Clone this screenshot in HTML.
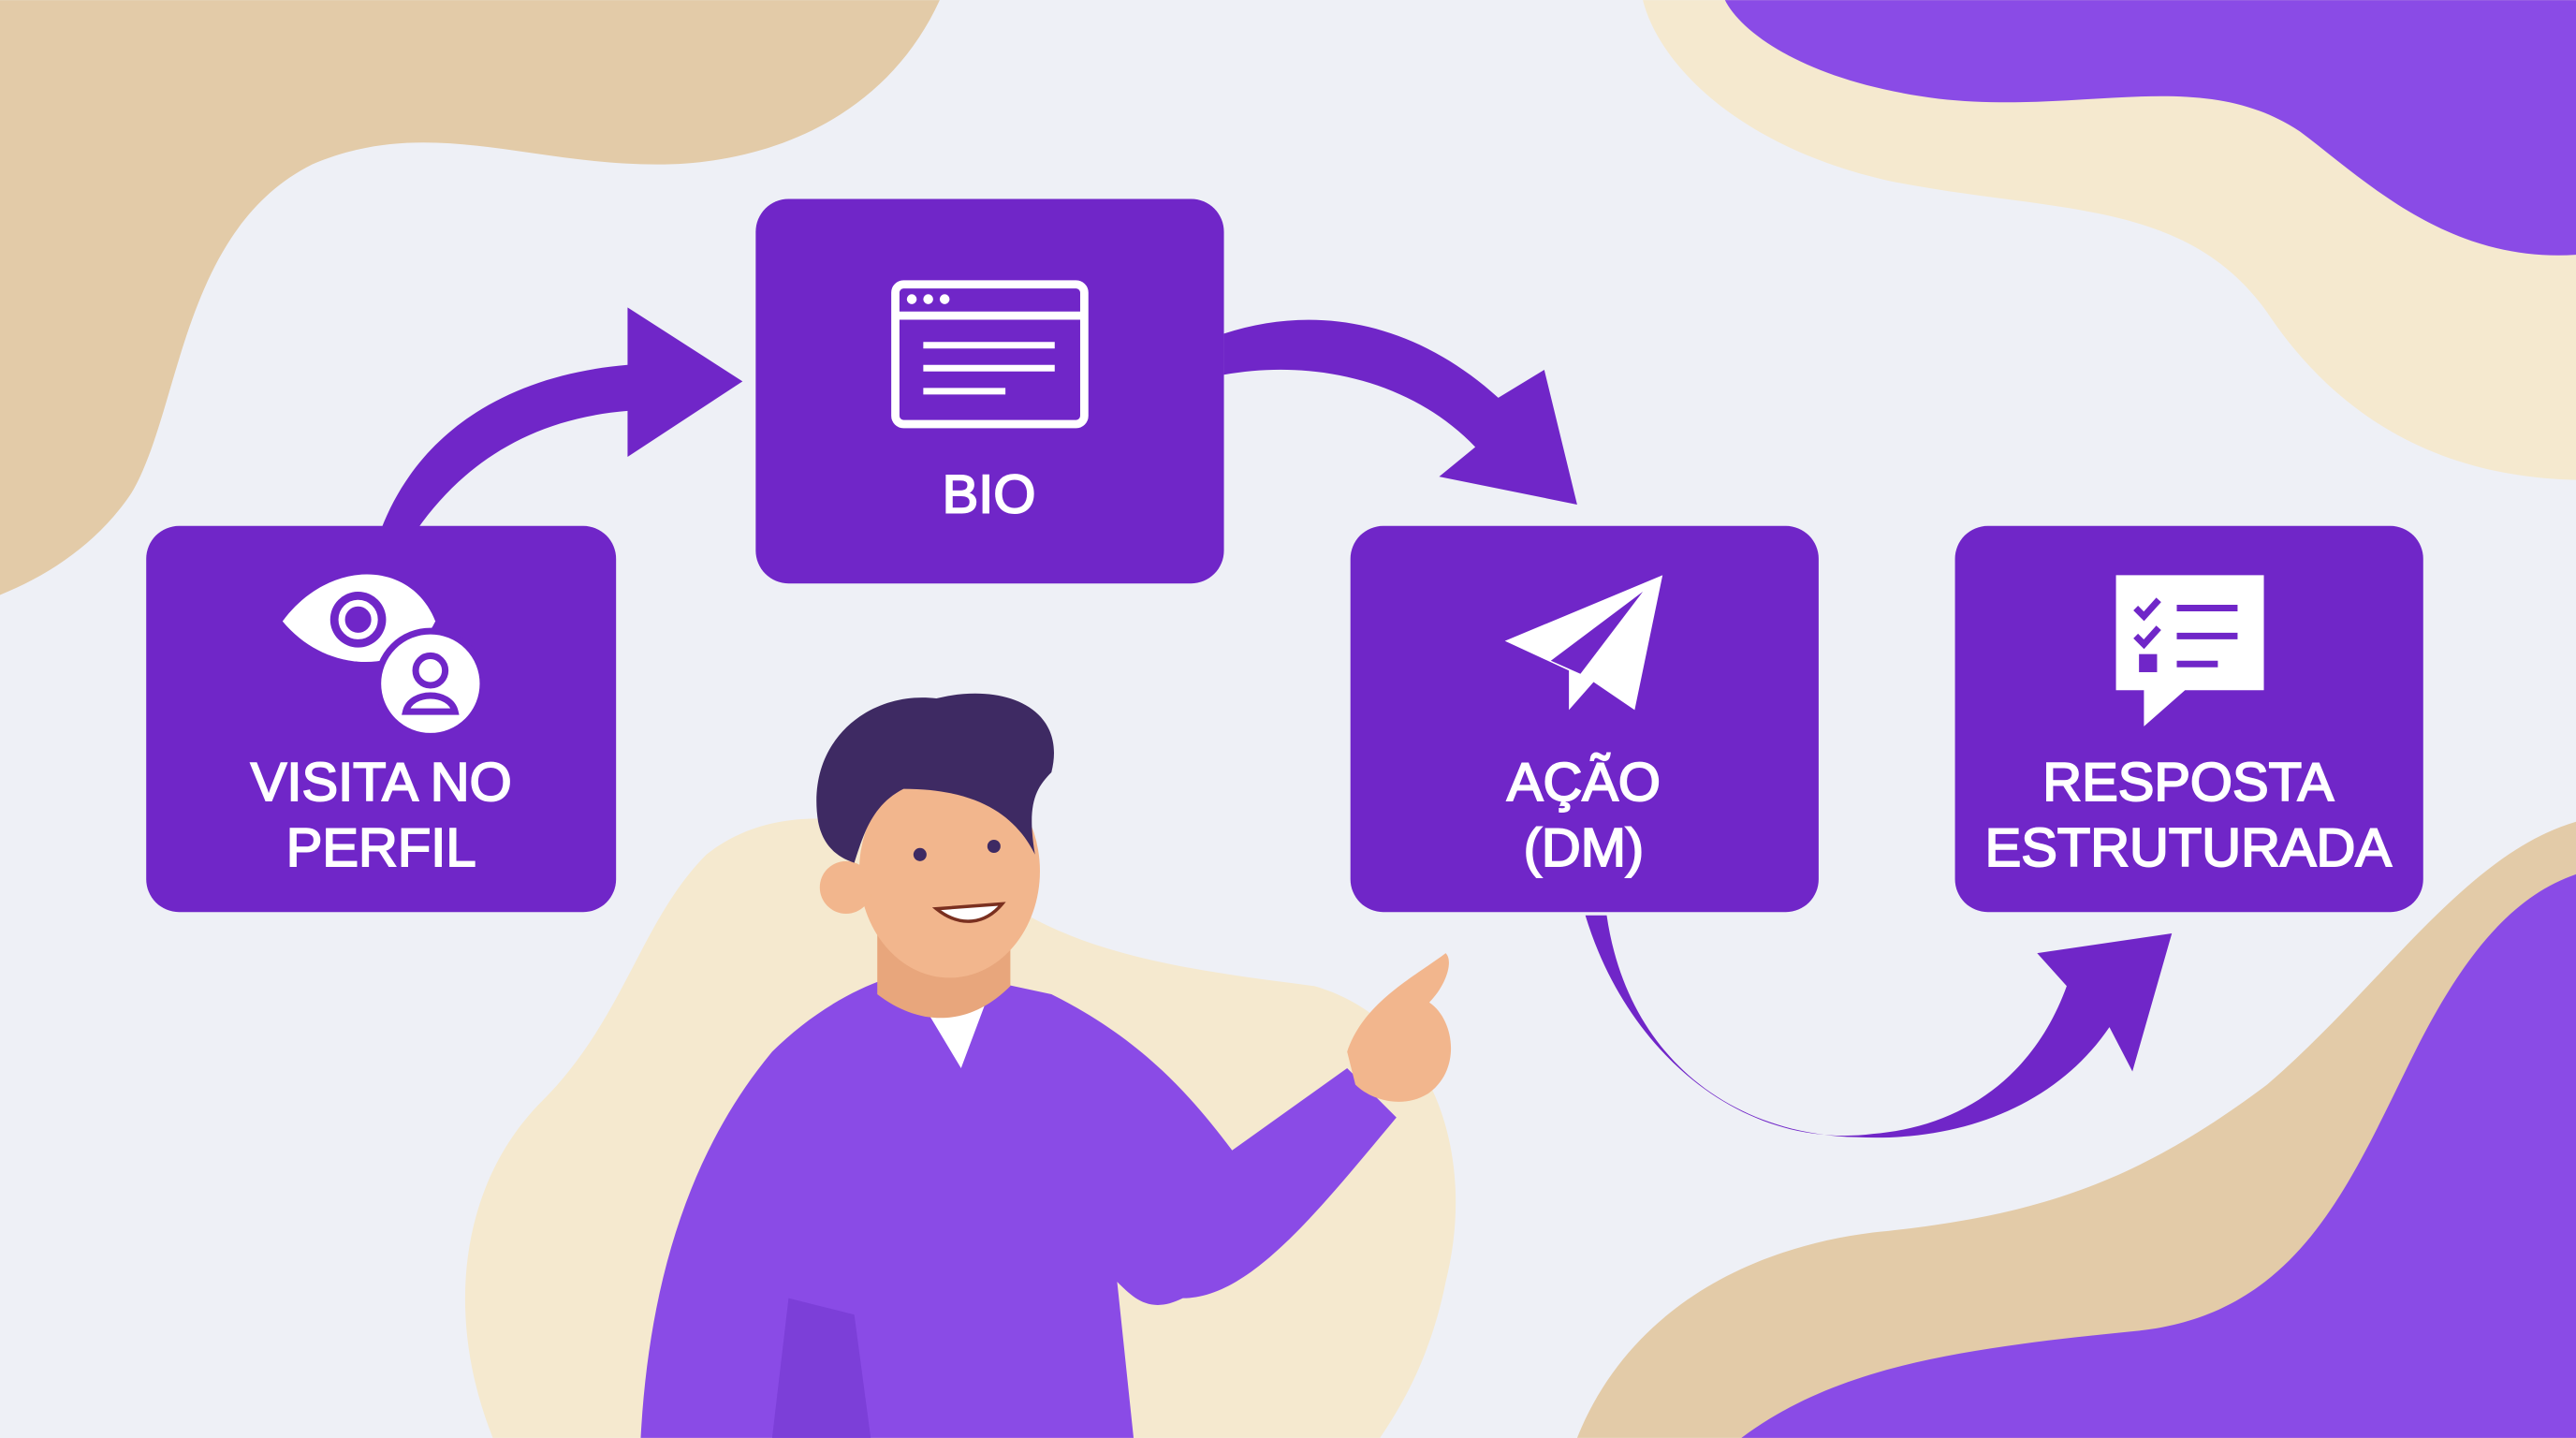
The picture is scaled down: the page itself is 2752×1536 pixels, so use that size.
<!DOCTYPE html>
<html><head><meta charset="utf-8"><style>
html,body{margin:0;padding:0;width:2752px;height:1536px;overflow:hidden;background:#eef0f6}
svg{display:block}
text{font-family:"Liberation Sans",sans-serif;fill:#fff;stroke:#fff;stroke-width:1.1px;font-size:33px;text-anchor:middle}
</style></head><body>
<svg width="2752" height="1536" viewBox="0 0 1568 875" xmlns="http://www.w3.org/2000/svg">
<rect width="1568" height="875" fill="#eef0f6"/>
<path d="M0 0 L572 0 C540 70 470 100 400 100 C320 100 260 70 190 100 C110 140 110 250 80 300 C60 330 30 350 0 362 Z" fill="#e3cba8"/>
<path d="M1000 0 L1568 0 L1568 292 C1480 290 1420 250 1380 190 C1330 120 1250 130 1150 110 C1060 90 1010 40 1000 0 Z" fill="#f5e9cf"/>
<path d="M1050 0 L1568 0 L1568 155 C1490 160 1440 110 1400 80 C1340 40 1270 70 1180 60 C1100 50 1060 20 1050 0 Z" fill="#8a4be6"/>
<path d="M960 875 C990 800 1060 760 1140 750 C1240 740 1300 720 1380 660 C1450 600 1500 520 1568 500 L1568 875 Z" fill="#e3cba8"/>
<path d="M1060 875 C1120 830 1200 820 1300 810 C1400 800 1430 720 1470 640 C1500 580 1530 545 1568 532 L1568 875 Z" fill="#8a4be6"/>
<path d="M300 875 C270 800 280 720 330 670 C380 620 390 560 430 520 C480 480 560 500 600 540 C650 580 720 590 800 600 C870 620 900 700 880 780 C870 830 850 860 840 875 Z" fill="#f5e9cf"/>

<g fill="#7026c8">
<path d="M232 322 C255 262 310 228 382 222 L382 187 L452 232 L382 278 L382 250 C320 255 280 285 254 322 Z"/>
<path d="M745 203 C800 185 860 195 912 242 L940 225 L960 307 L876 290 L898 272 C860 232 800 218 745 228 Z"/>
<path d="M965 557 C990 640 1060 700 1140 690 C1200 685 1240 650 1258 600 L1240 580 L1322 568 L1298 652 L1284 625 C1250 675 1190 695 1130 692 C1050 690 990 640 978 557 Z"/>
</g>

<g fill="#7026c8">
<rect x="89" y="320" width="286" height="235" rx="20"/>
<rect x="460" y="121" width="285" height="234" rx="20"/>
<rect x="822" y="320" width="285" height="235" rx="20"/>
<rect x="1190" y="320" width="285" height="235" rx="20"/>
</g>
<text x="232" y="487">VISITA NO</text><text x="232" y="527">PERFIL</text>
<text x="602" y="312">BIO</text>
<text x="964" y="487">AÇÃO</text><text x="964" y="527">(DM)</text>
<text x="1332" y="487">RESPOSTA</text><text x="1332" y="527">ESTRUTURADA</text>

<g fill="none" stroke="#fff" stroke-width="5">
<path d="M172 378 C200 340 250 340 265 378 C250 410 200 412 172 378 Z" fill="#fff" stroke="none"/>
<circle cx="218" cy="377" r="17" fill="#7026c8" stroke="none"/>
<circle cx="218" cy="377" r="10" stroke-width="4"/>
<circle cx="262" cy="416" r="32" fill="#fff" stroke="#7026c8" stroke-width="4"/>
<circle cx="262" cy="408" r="9" stroke="#7026c8" stroke-width="4"/>
<path d="M247 433 C250 420 274 420 277 433 Z" stroke="#7026c8" stroke-width="4"/>
<rect x="545" y="173" width="115" height="85" rx="5"/>
<line x1="545" y1="192" x2="660" y2="192"/>
<line x1="562" y1="210" x2="642" y2="210" stroke-width="4"/>
<line x1="562" y1="224" x2="642" y2="224" stroke-width="4"/>
<line x1="562" y1="238" x2="612" y2="238" stroke-width="4"/>
</g>
<g fill="#fff"><circle cx="555" cy="182" r="3"/><circle cx="565" cy="182" r="3"/><circle cx="575" cy="182" r="3"/></g>
<path d="M916 390 L1012 350 L995 432 L970 415 L955 432 L955 408 Z" fill="#fff"/>
<path d="M944 402 L1000 360 L962 410 Z" fill="#7026c8"/>
<path d="M1288 350 H1378 V420 H1330 L1305 442 V420 H1288 Z" fill="#fff"/>
<g stroke="#7026c8" stroke-width="4" fill="none">
<line x1="1325" y1="370" x2="1362" y2="370"/><line x1="1325" y1="387" x2="1362" y2="387"/><line x1="1325" y1="404" x2="1350" y2="404"/>
<path d="M1300 370 l5 5 l9 -10"/><path d="M1300 387 l5 5 l9 -10"/>
</g>
<rect x="1302" y="398" width="11" height="11" fill="#7026c8"/>

<path d="M390 875 C395 780 420 700 470 640 C500 610 540 590 570 590 L640 605 C690 630 720 660 750 700 L820 650 L850 680 C800 740 760 790 720 790 C700 800 690 790 680 780 L690 875 Z" fill="#8a4be6"/>
<path d="M470 875 L480 790 L520 800 L530 875 Z" fill="#7c3fd8"/>
<path d="M555 600 L600 610 L585 650 Z" fill="#fff"/>
<path d="M534 560 L534 605 C560 625 590 625 615 600 L615 560 Z" fill="#e8a67c"/>
<ellipse cx="578" cy="530" rx="55" ry="65" fill="#f2b68d"/>
<circle cx="515" cy="540" r="16" fill="#f2b68d"/>
<path d="M498 500 C490 450 530 420 570 425 C610 415 650 430 640 470 C630 480 625 490 630 520 C620 500 600 480 550 480 C530 490 525 510 520 525 C505 520 500 510 498 500 Z" fill="#3e2a63"/>
<circle cx="560" cy="520" r="4" fill="#3e2a63"/><circle cx="605" cy="515" r="4" fill="#3e2a63"/>
<path d="M570 553 C585 565 600 562 610 550 Z" fill="#fff" stroke="#7a3020" stroke-width="2"/>
<path d="M820 640 C830 610 860 595 880 580 C885 585 880 600 870 610 C885 620 890 650 870 665 C855 675 835 670 825 660 Z" fill="#f2b68d"/>
</svg>
</body></html>
